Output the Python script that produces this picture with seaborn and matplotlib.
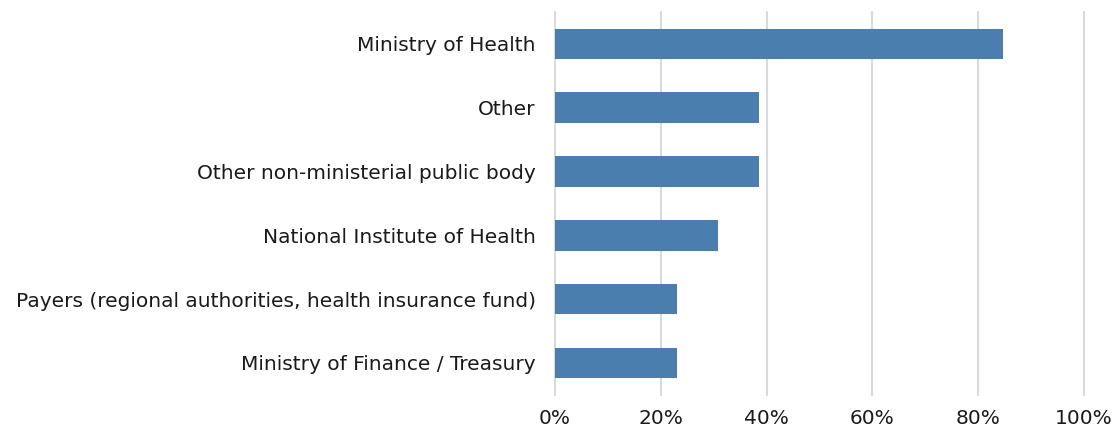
import matplotlib
matplotlib.use("Agg")
import matplotlib.pyplot as plt
import pandas as pd
import seaborn as sns
from matplotlib.ticker import PercentFormatter

categories = [
    "Ministry of Health",
    "Other",
    "Other non-ministerial public body",
    "National Institute of Health",
    "Payers (regional authorities, health insurance fund)",
    "Ministry of Finance / Treasury",
]
shares = [0.846, 0.385, 0.385, 0.308, 0.231, 0.231]
x_ticks = [0, 0.2, 0.4, 0.6, 0.8, 1.0]

sns.set_theme(style="white")
plt.rcParams["font.family"] = ["DejaVu Sans"]

df = pd.DataFrame({"body": categories, "share": shares})

fig = plt.figure(figsize=(11.16, 4.32), dpi=100)
ax = fig.add_axes([0.4973, 0.086, 0.474, 0.886])

sns.barplot(data=df, y="body", x="share", orient="h", color="#4A7EAE",
            saturation=1, width=0.48, linewidth=0, ax=ax)

ax.set_xlim(0, 1.0)
ax.set_xticks(x_ticks)
ax.xaxis.set_major_formatter(PercentFormatter(1.0, decimals=0))
ax.grid(axis="x", color="#D9D9D9", linewidth=1.5)
for gl in ax.get_xgridlines():
    gl.set_clip_on(False)
ax.set_axisbelow(True)
for side in ["top", "right", "bottom", "left"]:
    ax.spines[side].set_visible(False)
ax.tick_params(axis="y", length=0, pad=14, labelsize=14.5, colors="#1a1a1a")
ax.tick_params(axis="x", length=0, pad=10, labelsize=14.5, colors="#1a1a1a")
ax.set_xlabel("")
ax.set_ylabel("")

fig.savefig("out.png", dpi=100)
plt.close(fig)
